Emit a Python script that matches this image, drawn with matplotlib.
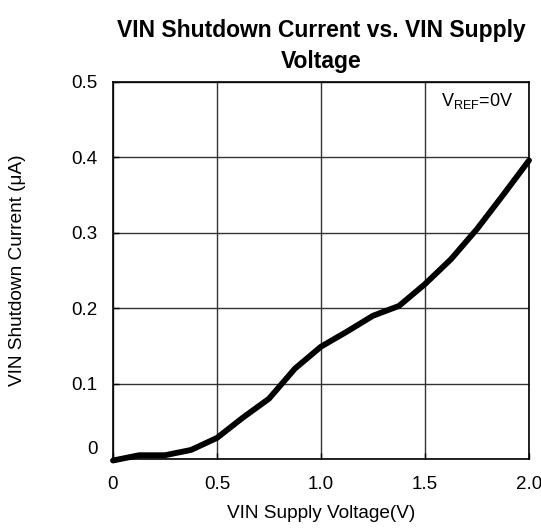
import matplotlib
matplotlib.use('Agg')
import matplotlib.pyplot as plt
import matplotlib.transforms as mtransforms

plt.rcParams['font.family'] = ['Liberation Sans', 'DejaVu Sans']
plt.rcParams['mathtext.fontset'] = 'custom'
plt.rcParams['mathtext.rm'] = 'Liberation Sans'

# data
vin = [0.0, 0.125, 0.25, 0.375, 0.5, 0.625, 0.75, 0.875, 1.0, 1.125, 1.25, 1.375, 1.5, 1.625, 1.75, 1.875, 2.0]
i_sd = [-0.002, 0.005, 0.005, 0.012, 0.028, 0.055, 0.080, 0.120, 0.149, 0.169, 0.190, 0.203, 0.232, 0.265, 0.305, 0.350, 0.396]
xticks = [0, 0.5, 1.0, 1.5, 2.0]
xtick_labels = ['0', '0.5', '1.0', '1.5', '2.0']
yticks = [0, 0.1, 0.2, 0.3, 0.4, 0.5]
ytick_labels = ['0', '0.1', '0.2', '0.3', '0.4', '0.5']

fig = plt.figure(figsize=(5.41, 5.28), dpi=100)
ax = fig.add_axes([113/541, 1-459/528, (529-113)/541, (459-82)/528])

ax.plot(vin, i_sd, color='black', lw=4.2, solid_capstyle='round', clip_on=False, zorder=3)

ax.set_xlim(0, 2.0)
ax.set_ylim(0, 0.5)
ax.set_xticks(xticks)
ax.set_xticklabels(xtick_labels)
ax.set_yticks(yticks)
ax.set_yticklabels(ytick_labels)
ax.tick_params(direction='in', length=4, labelsize=13.5, width=1)
ax.tick_params(axis='y', pad=11)
ax.tick_params(axis='x', pad=12)
ax.grid(True, color='#333333', lw=1)
for s in ax.spines.values():
    s.set_linewidth(1.2)

# nudge the bottom y label up like in the reference
lab0 = ax.get_yticklabels()[0]
lab0.set_transform(lab0.get_transform() + mtransforms.ScaledTranslation(0, 12/100, fig.dpi_scale_trans))

ax.text(1.575, 0.475, r'V$_{\mathrm{REF}}$=0V', fontsize=13, va='center', ha='left')

ax.set_xlabel('VIN Supply Voltage(V)', fontsize=13.7)
ax.set_ylabel('VIN Shutdown Current (μA)', fontsize=13.7)
ax.xaxis.set_label_coords(0.5, (459-513)/377)
ax.yaxis.set_label_coords((18-113)/416, 0.5)
ax.xaxis.label.set_va('center')
ax.yaxis.label.set_va('center')
ax.set_title('VIN Shutdown Current vs. VIN Supply\nVoltage', fontsize=16.5,
             fontweight='bold', linespacing=1.45, pad=10)

fig.savefig('out.png', dpi=100)
